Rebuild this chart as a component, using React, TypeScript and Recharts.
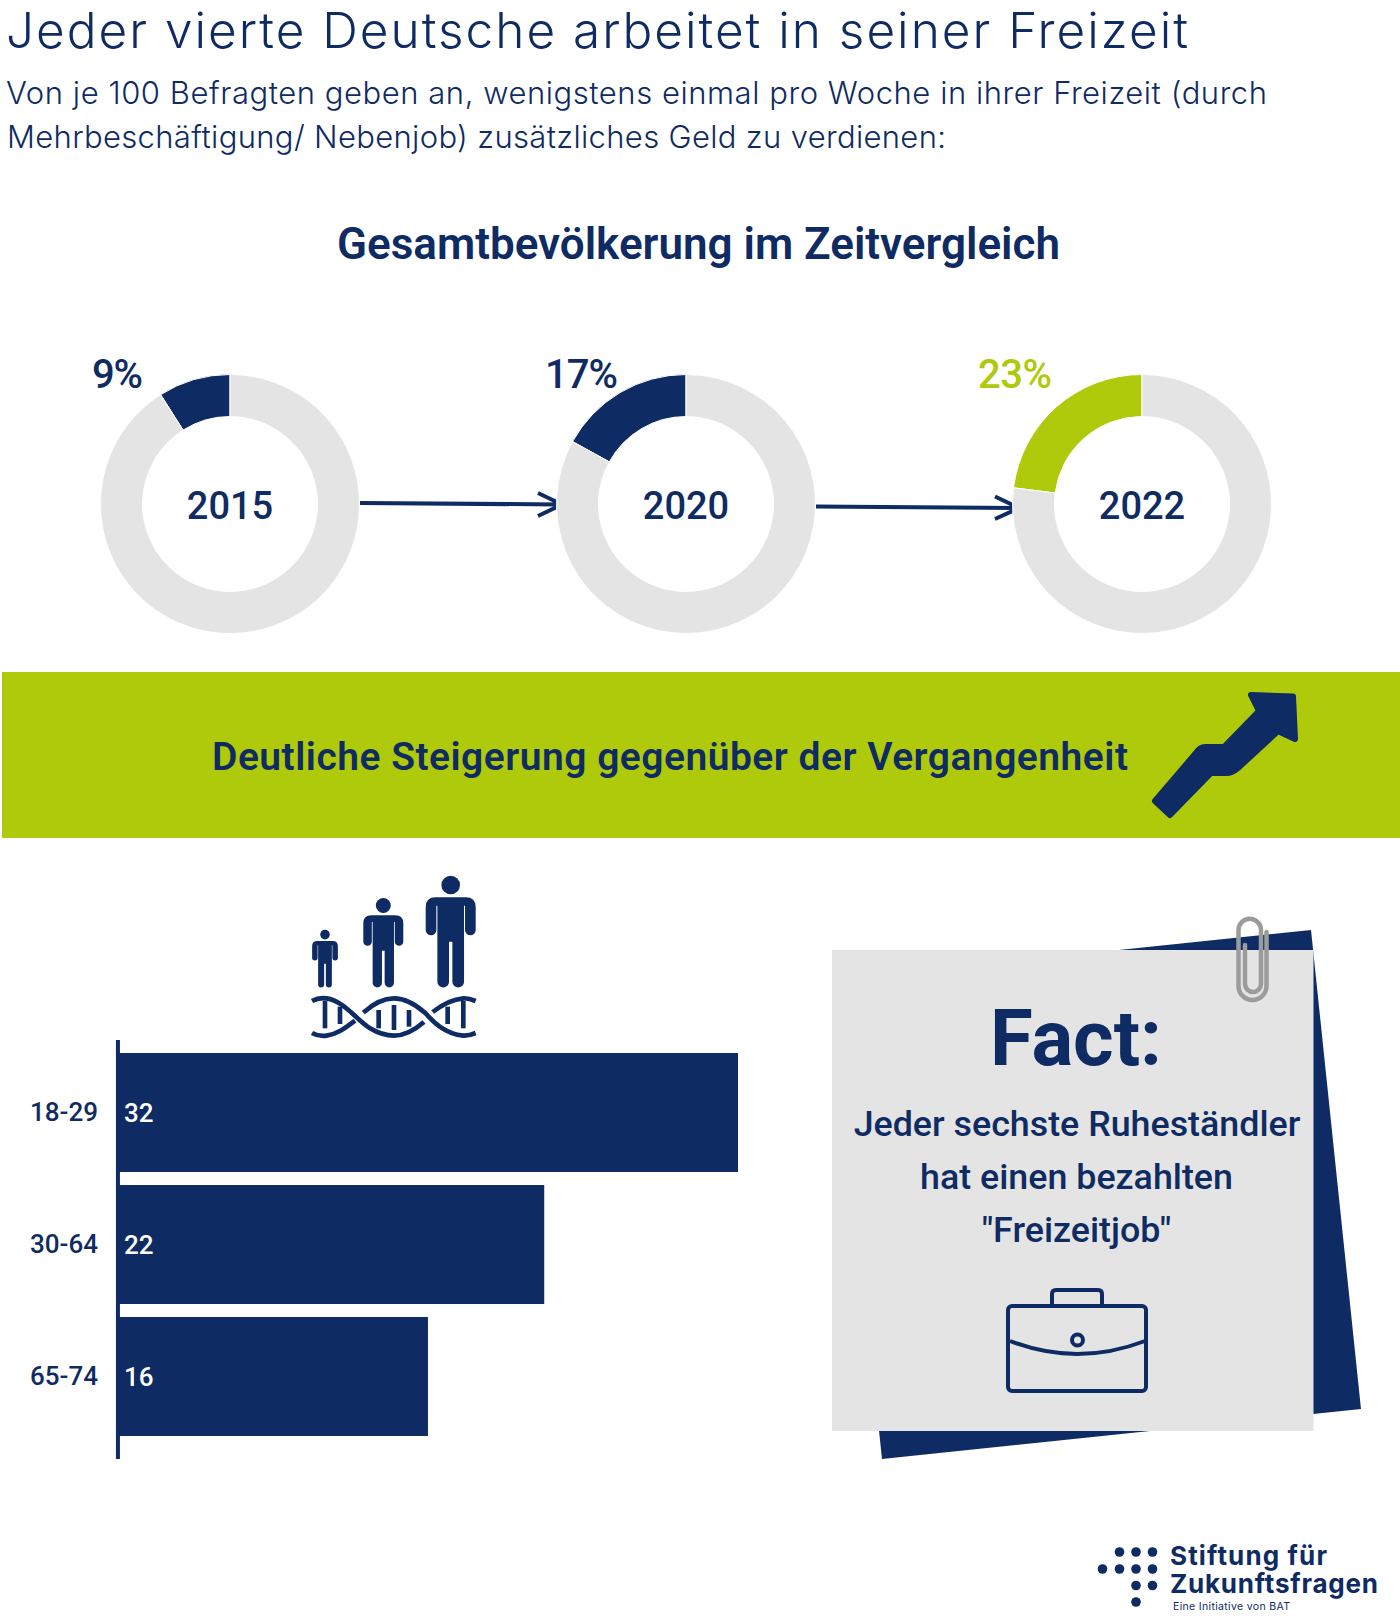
import React from "react";
import {
  Bar,
  BarChart,
  LabelList,
  Label,
  Pie,
  PieChart,
  ReferenceLine,
  XAxis,
  YAxis,
} from "recharts";

const NAVY = "#0f2b63";
const GREEN = "#afca0a";
const GREY = "#e4e4e4";

// donuts: survey years and share of people with a side job
const years = ["2015", "2020", "2022"];
const shares = [9, 17, 23];
const shareColors = [NAVY, NAVY, GREEN];

// bar chart: age groups
const ageGroups = ["18-29", "30-64", "65-74"];
const ageValues = [32, 22, 16];

const barData = ageGroups.map((group, i) => ({ group, value: ageValues[i] }));

const donutSpots = [230, 686, 1142];
const percentSpots = [
  { x: 92, w: 51 },
  { x: 545, w: 73 },
  { x: 978, w: 74 },
];

const Person = ({ x, y, s }: { x: number; y: number; s: number }) => (
  <g transform={`translate(${x} ${y}) scale(${s})`} fill={NAVY}>
    <circle cx={0} cy={-307} r={28} />
    <path d="M-75,-240 Q-75,-270 -45,-270 L45,-270 Q75,-270 75,-240 V-172 A16,16 0 0 1 43,-172 V-245 H40 V-17 A17.5,17.5 0 0 1 5,-17 V-137 H-5 V-17 A17.5,17.5 0 0 1 -40,-17 V-245 H-43 V-172 A16,16 0 0 1 -75,-172 Z" />
  </g>
);

const Dna = () => (
  <g transform="translate(300 870) scale(0.3333)" fill="none" stroke={NAVY} strokeWidth={14}>
    <path d="M36,393 C50,385 65,383 80,385 C130,392 170,450 210,475 C235,490 260,497 282,497 C305,497 335,488 372,456" />
    <path d="M398,426 C425,405 455,388 490,385 C505,384 515,388 527,393" />
    <path d="M36,489 C50,497 65,499 80,497 C110,493 135,475 165,452" />
    <path d="M190,428 C215,405 250,385 282,385 C315,385 345,402 375,428 C395,450 430,492 490,497 C505,498 515,494 527,489" />
    {[
      [75, 392, 475],
      [120, 410, 462],
      [236, 420, 475],
      [282, 405, 480],
      [327, 420, 470],
      [443, 410, 462],
      [490, 392, 475],
    ].map(([x, a, b]) => (
      <line key={x} x1={x} x2={x} y1={a} y2={b} />
    ))}
  </g>
);

const Backdrop = () => (
  <svg width={1400} height={1620} style={{ position: "absolute", left: 0, top: 0 }}>
    {/* arrows between the donuts */}
    <g fill="none" stroke={NAVY} strokeWidth={4}>
      <path d="M360,503 L560,504.5 M538,493 L562,504.5 L538,516" />
      <path d="M816,506.5 L1016,508 M995,496.5 L1019,508 L995,519" />
    </g>

    <rect x={2} y={672} width={1398} height={166} fill={GREEN} />
    <path
      d="M1251,695 L1293,696.5 L1295,739 L1278,731 L1238,768 Q1232,773 1228,773 L1211,773 L1170,815 L1155,801 L1196,753 Q1200,747 1205,747 L1224,747 L1259,711 Z"
      fill={NAVY}
      stroke={NAVY}
      strokeWidth={6}
      strokeLinejoin="round"
    />

    <Person x={450.7} y={987.3} s={0.3333} />
    <Person x={383.3} y={987.3} s={0.2667} />
    <Person x={325} y={987.3} s={0.1717} />
    <Dna />

    {/* note with the tilted sheet behind it */}
    <polygon points="1311,930 1361,1409 882,1459 832,980" fill={NAVY} />
    <rect x={832} y={950} width={481.5} height={481} fill={GREY} />
    <g fill="none" stroke={NAVY} strokeWidth={4} strokeLinejoin="round">
      <rect x={1008} y={1306} width={138} height={85} rx={4} />
      <path d="M1052,1305 V1294 Q1052,1290 1056,1290 H1098 Q1102,1290 1102,1294 V1305" />
      <path d="M1010,1341 Q1077,1367 1145,1341" />
      <circle cx={1077.5} cy={1340} r={5.5} />
    </g>
    <path
      d="M1266.5,932 V986 A14,14 0 0 1 1238.5,986 V930 A11.25,11.25 0 0 1 1261,930 V984 A8,8 0 0 1 1245,984 V945"
      fill="none"
      stroke="#9b9b9b"
      strokeWidth={4.5}
      strokeLinecap="round"
    />

    {/* foundation logo */}
    <g fill={NAVY}>
      {[
        [1119.5, 1552],
        [1136, 1552],
        [1152.5, 1552],
        [1102.5, 1569],
        [1119.5, 1569],
        [1136, 1569],
        [1152.5, 1569],
        [1136, 1585.5],
        [1152.5, 1585.5],
        [1136, 1602],
      ].map(([x, y]) => (
        <circle key={`${x}-${y}`} cx={x} cy={y} r={4.8} />
      ))}
    </g>
  </svg>
);

const Texts = () => (
  <svg
    width={1400}
    height={1620}
    style={{ position: "absolute", left: 0, top: 0, pointerEvents: "none" }}
    fill={NAVY}
  >
    <g fontFamily="Inter" fontWeight={300}>
      <text x={6} y={48} fontSize={49.5} textLength={1182} lengthAdjust="spacing">
        Jeder vierte Deutsche arbeitet in seiner Freizeit
      </text>
      <text x={6} y={104} fontSize={31} textLength={1261} lengthAdjust="spacing">
        Von je 100 Befragten geben an, wenigstens einmal pro Woche in ihrer Freizeit (durch
      </text>
      <text x={7} y={148} fontSize={31} textLength={939} lengthAdjust="spacing">
        Mehrbeschäftigung/ Nebenjob) zusätzliches Geld zu verdienen:
      </text>
    </g>
    <g fontFamily="Roboto" fontWeight={600}>
      <text x={337} y={259} fontSize={44} textLength={723} lengthAdjust="spacing">
        Gesamtbevölkerung im Zeitvergleich
      </text>
      {shares.map((s, i) => (
        <text
          key={years[i]}
          x={percentSpots[i].x}
          y={388}
          fontSize={40}
          fontWeight={500}
          fill={shareColors[i]}
          textLength={percentSpots[i].w}
          lengthAdjust="spacing"
        >
          {s}%
        </text>
      ))}
      <text x={212} y={770} fontSize={39} textLength={916} lengthAdjust="spacing">
        Deutliche Steigerung gegenüber der Vergangenheit
      </text>
      <text x={990} y={1065} fontSize={78} fontWeight={700} textLength={172} lengthAdjust="spacing">
        Fact:
      </text>
      <g fontSize={35.8} textAnchor="middle" fontWeight={500}>
        <text x={1077} y={1136}>Jeder sechste Ruheständler</text>
        <text x={1076.5} y={1189}>hat einen bezahlten</text>
        <text x={1076.5} y={1241.5}>"Freizeitjob"</text>
      </g>
    </g>
    <g fontFamily="Inter" fontWeight={700}>
      <text x={1170} y={1565} fontSize={26} textLength={157} lengthAdjust="spacing">
        Stiftung für
      </text>
      <text x={1170} y={1593} fontSize={26} textLength={208} lengthAdjust="spacing">
        Zukunftsfragen
      </text>
      <text x={1173} y={1610} fontSize={10.5} fontWeight={400} textLength={117} lengthAdjust="spacing">
        Eine Initiative von BAT
      </text>
    </g>
  </svg>
);

const Donut = ({ index }: { index: number }) => {
  const data = [
    { name: "Anteil", value: shares[index], fill: shareColors[index] },
    { name: "Rest", value: 100 - shares[index], fill: GREY },
  ];
  return (
    <div style={{ position: "absolute", left: donutSpots[index] - 130, top: 374 }}>
      <PieChart width={260} height={260} margin={{ top: 0, right: 0, bottom: 0, left: 0 }}>
        <Pie
          data={data}
          dataKey="value"
          nameKey="name"
          cx={130}
          cy={130}
          innerRadius={87.5}
          outerRadius={129.5}
          startAngle={90}
          endAngle={450}
          stroke="#ffffff"
          strokeWidth={1}
          isAnimationActive={false}
        >
          <Label
            value={years[index]}
            position="center"
            dy={2}
            fill={NAVY}
            style={{ fontFamily: "Roboto", fontWeight: 500, fontSize: 38 }}
          />
        </Pie>
      </PieChart>
    </div>
  );
};

const App: React.FC = () => (
  <div style={{ position: "absolute", left: 0, top: 0, width: 1400, height: 1620, background: "#fff" }}>
    <Backdrop />
    {years.map((y, i) => (
      <Donut key={y} index={i} />
    ))}
    <div style={{ position: "absolute", left: 0, top: 1040 }}>
      <BarChart
        width={780}
        height={419}
        data={barData}
        layout="vertical"
        margin={{ top: 0, right: 42, bottom: 0, left: 0 }}
        barSize={119}
      >
        <XAxis type="number" domain={[-0.1, 32]} hide />
        <YAxis
          type="category"
          dataKey="group"
          width={116}
          padding={{ top: 6, bottom: 17 }}
          axisLine={false}
          tickLine={false}
          tickSize={0}
          tickMargin={18}
          tick={{ fill: NAVY, fontFamily: "Roboto", fontWeight: 500, fontSize: 26 }}
        />
        <Bar dataKey="value" fill={NAVY} isAnimationActive={false}>
          <LabelList
            dataKey="value"
            position="insideLeft"
            offset={6}
            fill="#ffffff"
            style={{ fontFamily: "Roboto", fontWeight: 500, fontSize: 26 }}
          />
        </Bar>
        <ReferenceLine x={0} stroke={NAVY} strokeWidth={4} />
      </BarChart>
    </div>
    <Texts />
  </div>
);

export default App;
